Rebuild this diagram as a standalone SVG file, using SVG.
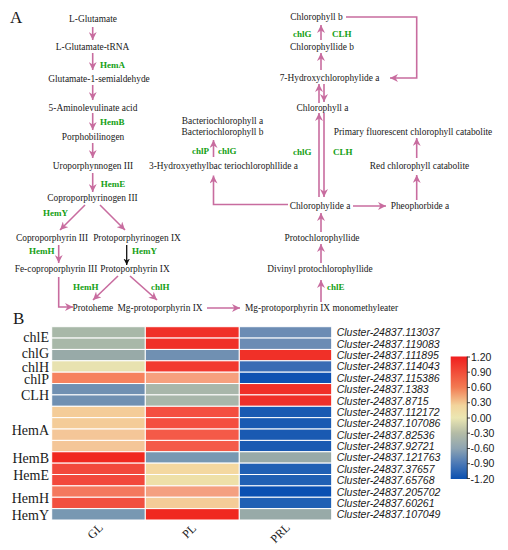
<svg xmlns="http://www.w3.org/2000/svg" width="508" height="550" viewBox="0 0 508 550">
<defs>
<style>
.t{font-family:"Liberation Serif","Times New Roman",serif;font-size:9.4px;fill:#1a1a1a}
.m{text-anchor:middle}
.g{font-family:"Liberation Serif","Times New Roman",serif;font-size:9px;font-weight:bold;fill:#14a014}
.big{font-family:"Liberation Serif","Times New Roman",serif;font-size:17px;fill:#1a1a1a}
.gene{font-family:"Liberation Serif","Times New Roman",serif;font-size:14px;fill:#1a1a1a;text-anchor:end}
.cl{font-family:"Liberation Sans",Arial,sans-serif;font-size:11.5px;font-style:italic;fill:#1a1a1a}
.tick{font-family:"Liberation Sans",Arial,sans-serif;font-size:10.5px;fill:#1a1a1a}
.col{font-family:"Liberation Serif","Times New Roman",serif;font-size:12px;fill:#1a1a1a;text-anchor:middle}
.a{stroke:#c86c9f;stroke-width:1.6;fill:none;marker-end:url(#ah)}
.hm rect{stroke:#ffffff;stroke-width:1}
</style>
<marker id="ah" viewBox="0 0 10 10" refX="10" refY="5" markerWidth="5" markerHeight="5" orient="auto" markerUnits="strokeWidth">
<path d="M0,0 L10,5 L0,10 L3,5 z" fill="#c86c9f"/>
</marker>
<marker id="ahk" viewBox="0 0 10 10" refX="10" refY="5" markerWidth="5" markerHeight="5" orient="auto" markerUnits="strokeWidth">
<path d="M0,0 L10,5 L0,10 L3,5 z" fill="#111"/>
</marker>
<linearGradient id="cb" x1="0" y1="0" x2="0" y2="1">
<stop offset="0" stop-color="#f01e1e"/>
<stop offset="0.25" stop-color="#f27a52"/>
<stop offset="0.4" stop-color="#f2d49c"/>
<stop offset="0.5" stop-color="#ebe6b2"/>
<stop offset="0.625" stop-color="#b4bca6"/>
<stop offset="0.75" stop-color="#8ea4b2"/>
<stop offset="0.875" stop-color="#4a78b6"/>
<stop offset="1" stop-color="#0a50b0"/>
</linearGradient>
</defs>
<rect width="508" height="550" fill="#ffffff"/>

<text class="big" x="10" y="23">A</text>
<text class="big" x="13" y="324">B</text>

<g id="connectors">
<line class="a" x1="92.7" y1="27" x2="92.7" y2="40"/>
<line class="a" x1="92.7" y1="53" x2="92.7" y2="70"/>
<line class="a" x1="92.7" y1="85" x2="92.7" y2="100"/>
<line class="a" x1="92.7" y1="113" x2="92.7" y2="130"/>
<line class="a" x1="92.7" y1="143" x2="92.7" y2="158"/>
<line class="a" x1="92.7" y1="173" x2="92.7" y2="192"/>
<line class="a" x1="85" y1="205" x2="60" y2="230"/>
<line class="a" x1="100" y1="205" x2="125" y2="230"/>
<line class="a" x1="58.7" y1="245" x2="58.7" y2="263"/>
<line x1="126.7" y1="245" x2="126.7" y2="265" stroke="#111" stroke-width="1.3" marker-end="url(#ahk)"/>
<polyline class="a" points="58.7,277 58.7,307 73,307"/>
<line class="a" x1="118" y1="276" x2="93" y2="300"/>
<line class="a" x1="130" y1="276" x2="157" y2="300"/>
<line class="a" x1="207" y1="308" x2="240" y2="308"/>
<line class="a" x1="321" y1="302" x2="321" y2="280"/>
<line class="a" x1="321" y1="263" x2="321" y2="244"/>
<line class="a" x1="321" y1="232" x2="321" y2="213"/>
<line class="a" x1="319" y1="197" x2="319" y2="113"/>
<line class="a" x1="324" y1="113" x2="324" y2="197"/>
<line class="a" x1="319" y1="103" x2="319" y2="84"/>
<line class="a" x1="324" y1="84" x2="324" y2="102"/>
<line class="a" x1="321" y1="70" x2="321" y2="53"/>
<line class="a" x1="321" y1="40" x2="321" y2="25"/>
<polyline class="a" points="346,17 416.7,17 416.7,78 390,78"/>
<line class="a" x1="353" y1="206" x2="386" y2="206"/>
<line class="a" x1="416.7" y1="200" x2="416.7" y2="175"/>
<line class="a" x1="416.7" y1="158" x2="416.7" y2="138"/>
<polyline class="a" points="288,204.5 213.5,204.5 213.5,175.5"/>
<line class="a" x1="213.5" y1="157" x2="213.5" y2="140"/>
</g>

<g id="pathway-nodes">
<g id="n-lglu"><text class="t m" x="93" y="21.5">L-Glutamate</text></g>
<g id="n-trna"><text class="t m" x="92.5" y="50">L-Glutamate-tRNA</text></g>
<g id="n-gsa"><text class="t m" x="99" y="82">Glutamate-1-semialdehyde</text></g>
<g id="n-ala"><text class="t m" x="93" y="110.5">5-Aminolevulinate acid</text></g>
<g id="n-pbg"><text class="t m" x="93" y="140">Porphobilinogen</text></g>
<g id="n-uro"><text class="t m" x="93" y="169">Uroporphynnogen III</text></g>
<g id="n-coprogen"><text class="t m" x="92.5" y="201">Coproporphyrinogen III</text></g>
<g id="n-copro"><text class="t m" x="52" y="241">Coproporphyrin III</text></g>
<g id="n-protogen"><text class="t m" x="137" y="241">Protoporphyrinogen IX</text></g>
<g id="n-fecopro"><text class="t m" x="56" y="272">Fe-coproporphyrin III</text></g>
<g id="n-proto"><text class="t m" x="135" y="272">Protoporphyrin IX</text></g>
<g id="n-protoheme"><text class="t" x="72.5" y="311">Protoheme</text></g>
<g id="n-mgproto"><text class="t" x="117.5" y="311">Mg-protoporphyrin IX</text></g>
<g id="n-mgme"><text class="t" x="245" y="311">Mg-protoporphyrin IX monomethyleater</text></g>
<g id="n-divinyl"><text class="t m" x="320" y="272">Divinyl protochlorophyllide</text></g>
<g id="n-pchlide"><text class="t m" x="322" y="241">Protochlorophyllide</text></g>
<g id="n-chlidea"><text class="t m" x="320" y="209">Chlorophylide a</text></g>
<g id="n-pheo"><text class="t m" x="420" y="209">Pheophorbide a</text></g>
<g id="n-rcc"><text class="t m" x="419.5" y="169">Red chlorophyll catabolite</text></g>
<g id="n-pfcc"><text class="t m" x="413" y="135">Primary fluorescent chlorophyll catabolite</text></g>
<g id="n-chla"><text class="t m" x="322.5" y="111">Chlorophyll a</text></g>
<g id="n-7hydroxy"><text class="t m" x="329.5" y="81">7-Hydroxychlorophylide a</text></g>
<g id="n-chlideb"><text class="t m" x="322" y="50">Chlorophyllide b</text></g>
<g id="n-chlb"><text class="t m" x="316.5" y="20">Chlorophyll b</text></g>
<g id="n-bchl"><text class="t m" x="222.5" y="123.5">Bacteriochlorophyll a</text><text class="t m" x="222.5" y="134.5">Bacteriochlorophyll b</text></g>
<g id="n-3hydroxy"><text class="t m" x="223.5" y="169">3-Hydroxyethylbac teriochlorophllide a</text></g>
</g>

<g id="enzyme-labels">
<text class="g" x="100" y="68">HemA</text>
<text class="g" x="100" y="125">HemB</text>
<text class="g" x="100.7" y="186.5">HemE</text>
<text class="g" x="43" y="216">HemY</text>
<text class="g" x="29" y="254">HemH</text>
<text class="g" x="132" y="254">HemY</text>
<text class="g" x="73" y="290">HemH</text>
<text class="g" x="151" y="290">chlH</text>
<text class="g" x="327" y="290">chlE</text>
<text class="g" x="192" y="154">chlP</text>
<text class="g" x="218" y="154">chlG</text>
<text class="g" x="293" y="155">chlG</text>
<text class="g" x="333" y="155">CLH</text>
<text class="g" x="293" y="37">chlG</text>
<text class="g" x="332" y="37">CLH</text>
</g>

<g id="heatmap" class="hm">
<rect x="51.7" y="326.7" width="93.6" height="11.37" fill="#a8b8a8"/><rect x="145.3" y="326.7" width="94" height="11.37" fill="#f03028"/><rect x="239.3" y="326.7" width="92.4" height="11.37" fill="#6c8cb4"/>
<rect x="51.7" y="338.07" width="93.6" height="11.37" fill="#a8b8a8"/><rect x="145.3" y="338.07" width="94" height="11.37" fill="#f03028"/><rect x="239.3" y="338.07" width="92.4" height="11.37" fill="#6c8cb4"/>
<rect x="51.7" y="349.44" width="93.6" height="11.37" fill="#98aaa8"/><rect x="145.3" y="349.44" width="94" height="11.37" fill="#7090b2"/><rect x="239.3" y="349.44" width="92.4" height="11.37" fill="#f03028"/>
<rect x="51.7" y="360.81" width="93.6" height="11.37" fill="#e8e2b0"/><rect x="145.3" y="360.81" width="94" height="11.37" fill="#f23a30"/><rect x="239.3" y="360.81" width="92.4" height="11.37" fill="#3a6cb4"/>
<rect x="51.7" y="372.18" width="93.6" height="11.37" fill="#f6825e"/><rect x="145.3" y="372.18" width="94" height="11.37" fill="#f6a07e"/><rect x="239.3" y="372.18" width="92.4" height="11.37" fill="#0f52b2"/>
<rect x="51.7" y="383.55" width="93.6" height="11.37" fill="#7090b2"/><rect x="145.3" y="383.55" width="94" height="11.37" fill="#a8b6aa"/><rect x="239.3" y="383.55" width="92.4" height="11.37" fill="#f03028"/>
<rect x="51.7" y="394.92" width="93.6" height="11.37" fill="#7090b2"/><rect x="145.3" y="394.92" width="94" height="11.37" fill="#a8b6aa"/><rect x="239.3" y="394.92" width="92.4" height="11.37" fill="#f03028"/>
<rect x="51.7" y="406.29" width="93.6" height="11.37" fill="#f4cc98"/><rect x="145.3" y="406.29" width="94" height="11.37" fill="#f44e40"/><rect x="239.3" y="406.29" width="92.4" height="11.37" fill="#1a5ab2"/>
<rect x="51.7" y="417.66" width="93.6" height="11.37" fill="#f4cc98"/><rect x="145.3" y="417.66" width="94" height="11.37" fill="#f44e40"/><rect x="239.3" y="417.66" width="92.4" height="11.37" fill="#1a5ab2"/>
<rect x="51.7" y="429.03" width="93.6" height="11.37" fill="#f4c698"/><rect x="145.3" y="429.03" width="94" height="11.37" fill="#f45a48"/><rect x="239.3" y="429.03" width="92.4" height="11.37" fill="#1a5ab2"/>
<rect x="51.7" y="440.4" width="93.6" height="11.37" fill="#f4c698"/><rect x="145.3" y="440.4" width="94" height="11.37" fill="#f45a48"/><rect x="239.3" y="440.4" width="92.4" height="11.37" fill="#1a5ab2"/>
<rect x="51.7" y="451.77" width="93.6" height="11.37" fill="#f02820"/><rect x="145.3" y="451.77" width="94" height="11.37" fill="#7898b2"/><rect x="239.3" y="451.77" width="92.4" height="11.37" fill="#98aaa8"/>
<rect x="51.7" y="463.14" width="93.6" height="11.37" fill="#f2483c"/><rect x="145.3" y="463.14" width="94" height="11.37" fill="#f4d8a0"/><rect x="239.3" y="463.14" width="92.4" height="11.37" fill="#2060b4"/>
<rect x="51.7" y="474.51" width="93.6" height="11.37" fill="#f2483c"/><rect x="145.3" y="474.51" width="94" height="11.37" fill="#eee0a8"/><rect x="239.3" y="474.51" width="92.4" height="11.37" fill="#2060b4"/>
<rect x="51.7" y="485.88" width="93.6" height="11.37" fill="#f4785e"/><rect x="145.3" y="485.88" width="94" height="11.37" fill="#f4a080"/><rect x="239.3" y="485.88" width="92.4" height="11.37" fill="#0a50b2"/>
<rect x="51.7" y="497.25" width="93.6" height="11.37" fill="#f25040"/><rect x="145.3" y="497.25" width="94" height="11.37" fill="#f4cc98"/><rect x="239.3" y="497.25" width="92.4" height="11.37" fill="#2060b4"/>
<rect x="51.7" y="508.62" width="93.6" height="11.37" fill="#7898b2"/><rect x="145.3" y="508.62" width="94" height="11.37" fill="#f02820"/><rect x="239.3" y="508.62" width="92.4" height="11.37" fill="#98aaa8"/>
</g>

<g id="gene-labels">
<text class="gene" x="49" y="342">chlE</text>
<text class="gene" x="49" y="357.5">chlG</text>
<text class="gene" x="49" y="371.5">chlH</text>
<text class="gene" x="49" y="384">chlP</text>
<text class="gene" x="49" y="400">CLH</text>
<text class="gene" x="49" y="435">HemA</text>
<text class="gene" x="49" y="463">HemB</text>
<text class="gene" x="49" y="480">HemE</text>
<text class="gene" x="49" y="503">HemH</text>
<text class="gene" x="49" y="520">HemY</text>
</g>

<g id="cluster-labels" transform="translate(336.7 0) scale(0.914 1)">
<text class="cl" x="0" y="336.4">Cluster-24837.113037</text>
<text class="cl" x="0" y="347.8">Cluster-24837.119083</text>
<text class="cl" x="0" y="359.1">Cluster-24837.111895</text>
<text class="cl" x="0" y="370.5">Cluster-24837.114043</text>
<text class="cl" x="0" y="381.9">Cluster-24837.115386</text>
<text class="cl" x="0" y="393.3">Cluster-24837.1383</text>
<text class="cl" x="0" y="404.6">Cluster-24837.8715</text>
<text class="cl" x="0" y="416.0">Cluster-24837.112172</text>
<text class="cl" x="0" y="427.4">Cluster-24837.107086</text>
<text class="cl" x="0" y="438.7">Cluster-24837.82536</text>
<text class="cl" x="0" y="450.1">Cluster-24837.92721</text>
<text class="cl" x="0" y="461.5">Cluster-24837.121763</text>
<text class="cl" x="0" y="472.8">Cluster-24837.37657</text>
<text class="cl" x="0" y="484.2">Cluster-24837.65768</text>
<text class="cl" x="0" y="495.6">Cluster-24837.205702</text>
<text class="cl" x="0" y="507.0">Cluster-24837.60261</text>
<text class="cl" x="0" y="518.3">Cluster-24837.107049</text>
</g>

<g id="column-labels">
<text class="col" transform="translate(98 534) rotate(-45)">GL</text>
<text class="col" transform="translate(192 534) rotate(-45)">PL</text>
<text class="col" transform="translate(283 536) rotate(-45)">PRL</text>
</g>

<g id="colorbar">
<rect x="450.7" y="356.5" width="16.6" height="122.5" fill="url(#cb)"/>
<line x1="467.3" y1="356.5" x2="467.3" y2="479" stroke="#111" stroke-width="0.8"/>
<g stroke="#111" stroke-width="0.8">
<line x1="467.3" y1="357" x2="470" y2="357"/>
<line x1="467.3" y1="372.2" x2="470" y2="372.2"/>
<line x1="467.3" y1="387.5" x2="470" y2="387.5"/>
<line x1="467.3" y1="402.7" x2="470" y2="402.7"/>
<line x1="467.3" y1="418" x2="470" y2="418"/>
<line x1="467.3" y1="433.2" x2="470" y2="433.2"/>
<line x1="467.3" y1="448.5" x2="470" y2="448.5"/>
<line x1="467.3" y1="463.7" x2="470" y2="463.7"/>
<line x1="467.3" y1="478.5" x2="470" y2="478.5"/>
</g>
<text class="tick" x="471" y="361">1.20</text>
<text class="tick" x="471" y="376">0.90</text>
<text class="tick" x="471" y="391">0.60</text>
<text class="tick" x="471" y="406">0.30</text>
<text class="tick" x="471" y="421.5">0.00</text>
<text class="tick" x="470.5" y="437">-0.30</text>
<text class="tick" x="470.5" y="452">-0.60</text>
<text class="tick" x="470.5" y="467">-0.90</text>
<text class="tick" x="470.5" y="482.5">-1.20</text>
</g>
</svg>
